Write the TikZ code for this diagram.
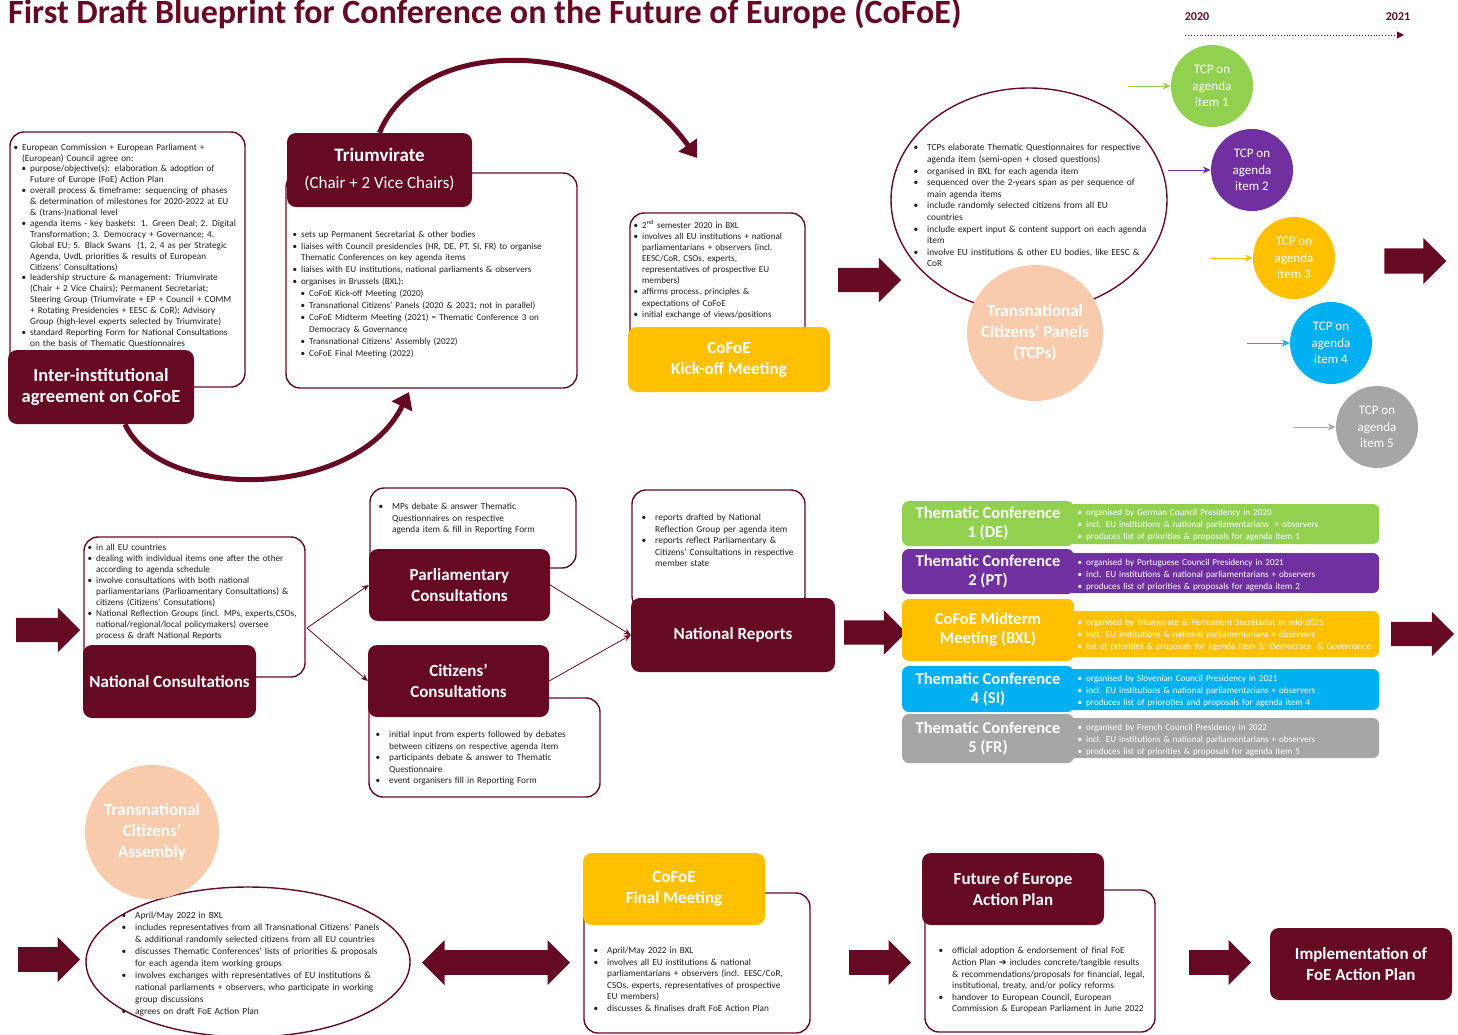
\documentclass[tikz,border=0pt]{standalone}
\usepackage{fontspec}
\setmainfont{Carlito}
\newfontfamily\symfont{DejaVu Sans}
\usepackage{enumitem}
\usetikzlibrary{arrows.meta,shapes.arrows,shapes.geometric}

\definecolor{cofoe}{RGB}{102,10,36}
\definecolor{tgreen}{RGB}{146,208,80}
\definecolor{tpurple}{RGB}{112,48,160}
\definecolor{tyellow}{RGB}{255,192,0}
\definecolor{tblue}{RGB}{0,176,240}
\definecolor{tgray}{RGB}{166,166,166}
\definecolor{peach}{RGB}{248,203,173}
\definecolor{bodytext}{RGB}{30,30,30}

\setlist[itemize]{nosep, label=\textbullet, leftmargin=8pt, labelsep=4pt}
\newenvironment{longbul}{\begin{itemize}[leftmargin=13pt, labelsep=9pt]}{\end{itemize}}

\begin{document}
\begin{tikzpicture}[x=1pt, y=-1pt,
  panel/.style={draw=cofoe, line width=1.4pt, fill=white, rounded corners=14pt},
  hdr/.style={fill=cofoe, rounded corners=9pt, text=white, align=center,
    font=\bfseries\fontsize{17}{21}\selectfont},
  colhdr/.style={fill=#1, rounded corners=7pt, text=white, align=center,
    minimum width=172pt, inner sep=0pt, font=\bfseries\fontsize{16.5}{19}\selectfont},
  coltxt/.style={fill=#1, rounded corners=6pt, minimum width=319pt},
  body/.style={anchor=north west, inner sep=0pt, text width=#1, align=left,
    text=bodytext, font=\fontsize{9.1}{11}\selectfont},
  whitebody/.style={anchor=north west, inner sep=0pt, text width=310pt, align=left,
    text=white, font=\fontsize{9.1}{12}\selectfont},
  blockarrow/.style={single arrow, fill=cofoe, minimum width=44pt,
    single arrow head extend=10pt, inner xsep=0pt, inner ysep=12pt},
  bubble/.style={circle, fill=peach, text=white, align=center, inner sep=0pt,
    font=\bfseries\fontsize{17}{21}\selectfont},
  tcp/.style={circle, fill=#1, text=white, align=center, minimum size=82pt,
    inner sep=0pt, font=\fontsize{13}{16.5}\selectfont},
  link/.style={draw=cofoe, line width=0.8pt, -{Stealth[length=7pt,width=6pt]}},
  swing/.style={draw=cofoe, line width=5pt, -{Triangle[length=16pt,width=22pt]}}]

\useasboundingbox (0,0) rectangle (1458,1034);

% title and time line
\node[anchor=base west, inner sep=0pt, text=cofoe,
  font=\bfseries\fontsize{34}{34}\selectfont] (title) at (8,23)
  {First Draft Blueprint for Conference on the Future of Europe (CoFoE)};
\node[text=cofoe, font=\bfseries\fontsize{12}{12}\selectfont] (y2020) at (1197,17) {2020};
\node[text=cofoe, font=\bfseries\fontsize{12}{12}\selectfont] (y2021) at (1398,17) {2021};
\coordinate (tl0) at (1185,35);
\coordinate (tl1) at (1404,35);
\draw[cofoe, line width=0.9pt, dotted, -{Triangle[length=7pt,width=7pt]}] (tl0) -- (tl1);

% ---------- row 1 ----------
\node[panel, minimum width=235pt, minimum height=255pt] (agrbox) at (127.5,259.5) {};
\node[body=240pt, font=\fontsize{9.2}{10.9}\selectfont] (agrtext) at (14,139) {%
\begin{itemize}
\item European Commission + European Parliament +\newline (European) Council agree on:
\begin{itemize}
\item purpose/objective(s): elaboration \& adoption of\newline Future of Europe (FoE) Action Plan
\item overall process \& timeframe: sequencing of phases\newline \& determination of milestones for 2020-2022 at EU\newline \& (trans-)national level
\item agenda items - key baskets: 1. Green Deal; 2. Digital\newline Transformation; 3. Democracy + Governance; 4.\newline Global EU; 5. Black Swans \ (1, 2, 4 as per Strategic\newline Agenda, UvdL priorities \& results of European\newline Citizens’ Consultations)
\item leadership structure \& management: Triumvirate\newline (Chair + 2 Vice Chairs); Permanent Secretariat;\newline Steering Group (Triumvirate + EP + Council + COMM\newline + Rotating Presidencies + EESC \& CoR); Advisory\newline Group (high-level experts selected by Triumvirate)
\item standard Reporting Form for National Consultations\newline on the basis of Thematic Questionnaires
\end{itemize}
\end{itemize}};
\node[hdr, minimum width=186pt, minimum height=74pt,
  font=\bfseries\fontsize{18.5}{21}\selectfont] (agrhdr) at (101,387)
  {Inter-institutional\\agreement on CoFoE};

\node[panel, minimum width=291pt, minimum height=215pt] (triubox) at (431.5,280.5) {};
\node[body=290pt, font=\fontsize{9.1}{11.9}\selectfont] (triutext) at (293,225) {%
\begin{itemize}
\item sets up Permanent Secretariat \& other bodies
\item liaises with Council presidencies (HR, DE, PT, SI, FR) to organise\newline Thematic Conferences on key agenda items
\item liaises with EU institutions, national parliaments \& observers
\item organises in Brussels (BXL):
\begin{itemize}
\item CoFoE Kick-off Meeting (2020)
\item Transnational Citizens’ Panels (2020 \& 2021; not in parallel)
\item CoFoE Midterm Meeting (2021) = Thematic Conference 3 on\newline Democracy \& Governance
\item Transnational Citizens’ Assembly (2022)
\item CoFoE Final Meeting (2022)
\end{itemize}
\end{itemize}};
\node[hdr, minimum width=185pt, minimum height=74pt,
  font=\fontsize{17}{27}\selectfont] (triuhdr) at (379.5,170)
  {{\bfseries\fontsize{19}{27}\selectfont Triumvirate}\\(Chair + 2 Vice Chairs)};

\node[panel, minimum width=175pt, minimum height=132pt] (kickbox) at (717.5,279) {};
\node[body=180pt, font=\fontsize{9.1}{11.1}\selectfont] (kicktext) at (634,217) {%
\begin{itemize}
\item 2\textsuperscript{nd} semester 2020 in BXL
\item involves all EU institutions + national\newline parliamentarians + observers (incl.\newline EESC/CoR, CSOs, experts,\newline representatives of prospective EU\newline members)
\item affirms process, principles \&\newline expectations of CoFoE
\item initial exchange of views/positions
\end{itemize}};
\node[hdr, fill=tyellow, minimum width=202pt, minimum height=65pt] (kickhdr) at (729,359.5)
  {CoFoE\\Kick-off Meeting};

% swinging arrows
\coordinate (kicktop) at (697,158);
\draw[swing] (triuhdr.north) .. controls (420,34) and (609,34) .. (kicktop);
\coordinate (triubottom) at (409,392);
\draw[swing] ([xshift=24pt]agrhdr.south) .. controls (160,501) and (356,501) .. (triubottom);

\node[blockarrow, minimum height=63pt] (go1) at (863.5,280) {};

\node[ellipse, draw=cofoe, line width=1.4pt, fill=white,
  minimum width=276pt, minimum height=224pt] (tcpell) at (1029,200) {};
\node[body=250pt, font=\fontsize{9.4}{11.6}\selectfont] (tcptext) at (914,139) {%
\begin{longbul}
\item TCPs elaborate Thematic Questionnaires for respective\newline agenda item (semi-open + closed questions)
\item organised in BXL for each agenda item
\item sequenced over the 2-years span as per sequence of\newline main agenda items
\item include randomly selected citizens from all EU\newline countries
\item include expert input \& content support on each agenda\newline item
\item involve EU institutions \& other EU bodies, like EESC \&\newline CoR
\end{longbul}};
\node[bubble, minimum size=136pt] (tcps) at (1035,333)
  {Transnational\\Citizens’ Panels\\(TCPs)};

% the five panels
\node[tcp=tgreen]  (tcp1) at (1212,86)  {TCP on\\agenda\\item 1};
\node[tcp=tpurple] (tcp2) at (1252,170) {TCP on\\agenda\\item 2};
\node[tcp=tyellow] (tcp3) at (1294,258) {TCP on\\agenda\\item 3};
\node[tcp=tblue]   (tcp4) at (1331,343) {TCP on\\agenda\\item 4};
\node[tcp=tgray]   (tcp5) at (1377,427) {TCP on\\agenda\\item 5};
\foreach \i/\c in {1/tgreen,2/tpurple,3/tyellow,4/tblue,5/tgray}
  \draw[\c, line width=1pt, -{Stealth[length=8pt,width=7pt]}]
    ([xshift=-43pt]tcp\i.west) -- (tcp\i.west);

\node[blockarrow, minimum height=62pt, minimum width=46pt] (go2) at (1409,261) {};

% ---------- row 2 ----------
\node[blockarrow, minimum height=64pt] (go3) at (42,630) {};

\node[panel, minimum width=221pt, minimum height=140pt] (natbox) at (194.5,607) {};
\node[body=220pt, font=\fontsize{9.2}{11}\selectfont] (nattext) at (88,539) {%
\begin{itemize}
\item in all EU countries
\item dealing with individual items one after the other\newline according to agenda schedule
\item involve consultations with both national\newline parliamentarians (Parlioamentary Consultations) \&\newline citizens (Citizens’ Consutations)
\item National Reflection Groups (incl. MPs, experts,CSOs,\newline national/regional/local policymakers) oversee\newline process \& draft National Reports
\end{itemize}};
\node[hdr, minimum width=173pt, minimum height=73pt] (nathdr) at (169.5,681.5)
  {National Consultations};

\node[panel, minimum width=206pt, minimum height=80pt] (parlbox) at (473,528) {};
\node[body=200pt, font=\fontsize{9.3}{11.5}\selectfont] (parltext) at (379,498) {%
\begin{longbul}
\item MPs debate \& answer Thematic\newline Questionnaires on respective\newline agenda item \& fill in Reporting Form
\end{longbul}};
\node[hdr, minimum width=181pt, minimum height=72pt] (parlhdr) at (459.5,585)
  {Parliamentary\\Consultations};

\node[panel, minimum width=231pt, minimum height=99pt] (citbox) at (484.5,747.5) {};
\node[body=230pt, font=\fontsize{9.25}{11.5}\selectfont] (cittext) at (376,726) {%
\begin{longbul}
\item initial input from experts followed by debates\newline between citizens on respective agenda item
\item participants debate \& answer to Thematic\newline Questionnaire
\item event organisers fill in Reporting Form
\end{longbul}};
\node[hdr, minimum width=181pt, minimum height=72pt] (cithdr) at (458.5,681)
  {Citizens’\\Consultations};

\coordinate (split) at (307,628);
\draw[link] (split) -- (parlhdr.west);
\draw[link] (split) -- (cithdr.west);

\node[panel, minimum width=173pt, minimum height=120pt] (repbox) at (718.5,550) {};
\node[body=180pt, font=\fontsize{9.35}{11.5}\selectfont] (reptext) at (642,509) {%
\begin{longbul}
\item reports drafted by National\newline Reflection Group per agenda item
\item reports reflect Parliamentary \&\newline Citizens’ Consultations in respective\newline member state
\end{longbul}};
\node[hdr, minimum width=204pt, minimum height=74pt] (rephdr) at (733,635)
  {National Reports};

\draw[link] (parlhdr.east) -- (rephdr.west);
\draw[link] (cithdr.east) -- (rephdr.west);

\node[blockarrow, minimum height=62pt] (go4) at (869,632.5) {};

% thematic conferences
\node[coltxt=tgreen,  minimum height=40pt] (tc1txt) at (1219.5,524) {};
\node[coltxt=tpurple, minimum height=40pt] (tc2txt) at (1219.5,573) {};
\node[coltxt=tyellow, minimum height=46pt] (tc3txt) at (1219.5,634) {};
\node[coltxt=tblue,   minimum height=41pt] (tc4txt) at (1219.5,689.5) {};
\node[coltxt=tgray,   minimum height=40pt] (tc5txt) at (1219.5,738) {};

\node[colhdr=tgreen,  minimum height=45pt] (tc1) at (988,523.5) {Thematic Conference\\1 (DE)};
\node[colhdr=tpurple, minimum height=45pt] (tc2) at (988,571.5) {Thematic Conference\\2 (PT)};
\node[colhdr=tyellow, minimum height=62pt] (tc3) at (988,630)   {CoFoE Midterm\\Meeting (BXL)};
\node[colhdr=tblue,   minimum height=46pt] (tc4) at (988,689)   {Thematic Conference\\4 (SI)};
\node[colhdr=tgray,   minimum height=49pt] (tc5) at (988,738.5) {Thematic Conference\\5 (FR)};

\node[whitebody] (tc1list) at (1078,503) {%
\begin{itemize}
\item organised by German Council Presidency in 2020
\item incl. EU institutions \& national parliamentarians \ + observers
\item produces list of priorities \& proposals for agenda item 1
\end{itemize}};
\node[whitebody] (tc2list) at (1078,553) {%
\begin{itemize}
\item organised by Portuguese Council Presidency in 2021
\item incl. EU institutions \& national parliamentarians + observers
\item produces list of priorities \& proposals for agenda item 2
\end{itemize}};
\node[whitebody] (tc3list) at (1078,613) {%
\begin{itemize}
\item organised by Triumvirate \& Permanent Secretariat in mid-2021
\item incl. EU institutions \& national parliamentarians + observers
\item list of priorities \& proposals for agenda item 3: Democracy \ \& Governance
\end{itemize}};
\node[whitebody] (tc4list) at (1078,669) {%
\begin{itemize}
\item organised by Slovenian Council Presidency in 2021
\item incl. EU institutions \& national parliamentarians + observers
\item produces list of prioroties and proposals for agenda item 4
\end{itemize}};
\node[whitebody] (tc5list) at (1078,718) {%
\begin{itemize}
\item organised by French Council Presidency in 2022
\item incl. EU institutions \& national parliamentarians + observers
\item produces list of priorities \& proposals for agenda item 5
\end{itemize}};

\node[blockarrow, minimum height=63pt] (go5) at (1416.5,634) {};

% ---------- row 3 ----------
\node[blockarrow, minimum height=62pt, minimum width=45pt] (go6) at (43,959.5) {};

\node[ellipse, draw=cofoe, line width=1.4pt, fill=white, inner sep=0pt,
  minimum width=324pt, minimum height=150pt] (asmell) at (248,962) {};
\node[body=290pt, font=\fontsize{9.4}{12}\selectfont] (asmtext) at (122,906) {%
\begin{longbul}
\item April/May 2022 in BXL
\item includes representatives from all Transnational Citizens’ Panels\newline \& additional randomly selected citizens from all EU countries
\item discusses Thematic Conferences’ lists of priorities \& proposals\newline for each agenda item working groups
\item involves exchanges with representatives of EU institutions \&\newline national parliaments + observers, who participate in working\newline group discussions
\item agrees on draft FoE Action Plan
\end{longbul}};
\node[bubble, minimum size=134pt] (tca) at (152,832)
  {Transnational\\Citizens’\\Assembly};

\node[double arrow, fill=cofoe, minimum width=45pt, minimum height=148pt,
  double arrow head extend=10pt, inner xsep=0pt, inner ysep=12pt] (both) at (496,962.5) {};

\node[panel, minimum width=226pt, minimum height=140pt] (finbox) at (697,963) {};
\node[body=220pt, font=\fontsize{9.25}{11.5}\selectfont] (fintext) at (594,942) {%
\begin{longbul}
\item April/May 2022 in BXL
\item involves all EU institutions \& national\newline parliamentarians + observers (incl. EESC/CoR,\newline CSOs, experts, representatives of prospective\newline EU members)
\item discusses \& finalises draft FoE Action Plan
\end{longbul}};
\node[hdr, fill=tyellow, minimum width=182pt, minimum height=72pt] (finhdr) at (674,889)
  {CoFoE\\Final Meeting};

\node[blockarrow, minimum height=62pt, minimum width=45pt] (go7) at (874,962.5) {};

\node[panel, minimum width=230pt, minimum height=142pt] (planbox) at (1040,961) {};
\node[body=225pt, font=\fontsize{9.3}{11.6}\selectfont] (plantext) at (939,942) {%
\begin{longbul}
\item official adoption \& endorsement of final FoE\newline Action Plan {\symfont\bfseries ➔} includes concrete/tangible results\newline \& recommendations/proposals for financial, legal,\newline institutional, treaty, and/or policy reforms
\item handover to European Council, European\newline Commission \& European Parliament in June 2022
\end{longbul}};
\node[hdr, minimum width=182pt, minimum height=72pt] (planhdr) at (1013,889)
  {Future of Europe\\Action Plan};

\node[blockarrow, minimum height=62pt, minimum width=45pt] (go8) at (1214,962.5) {};

\node[hdr, minimum width=182pt, minimum height=72pt] (impl) at (1361,964)
  {Implementation of\\FoE Action Plan};

\end{tikzpicture}
\end{document}
